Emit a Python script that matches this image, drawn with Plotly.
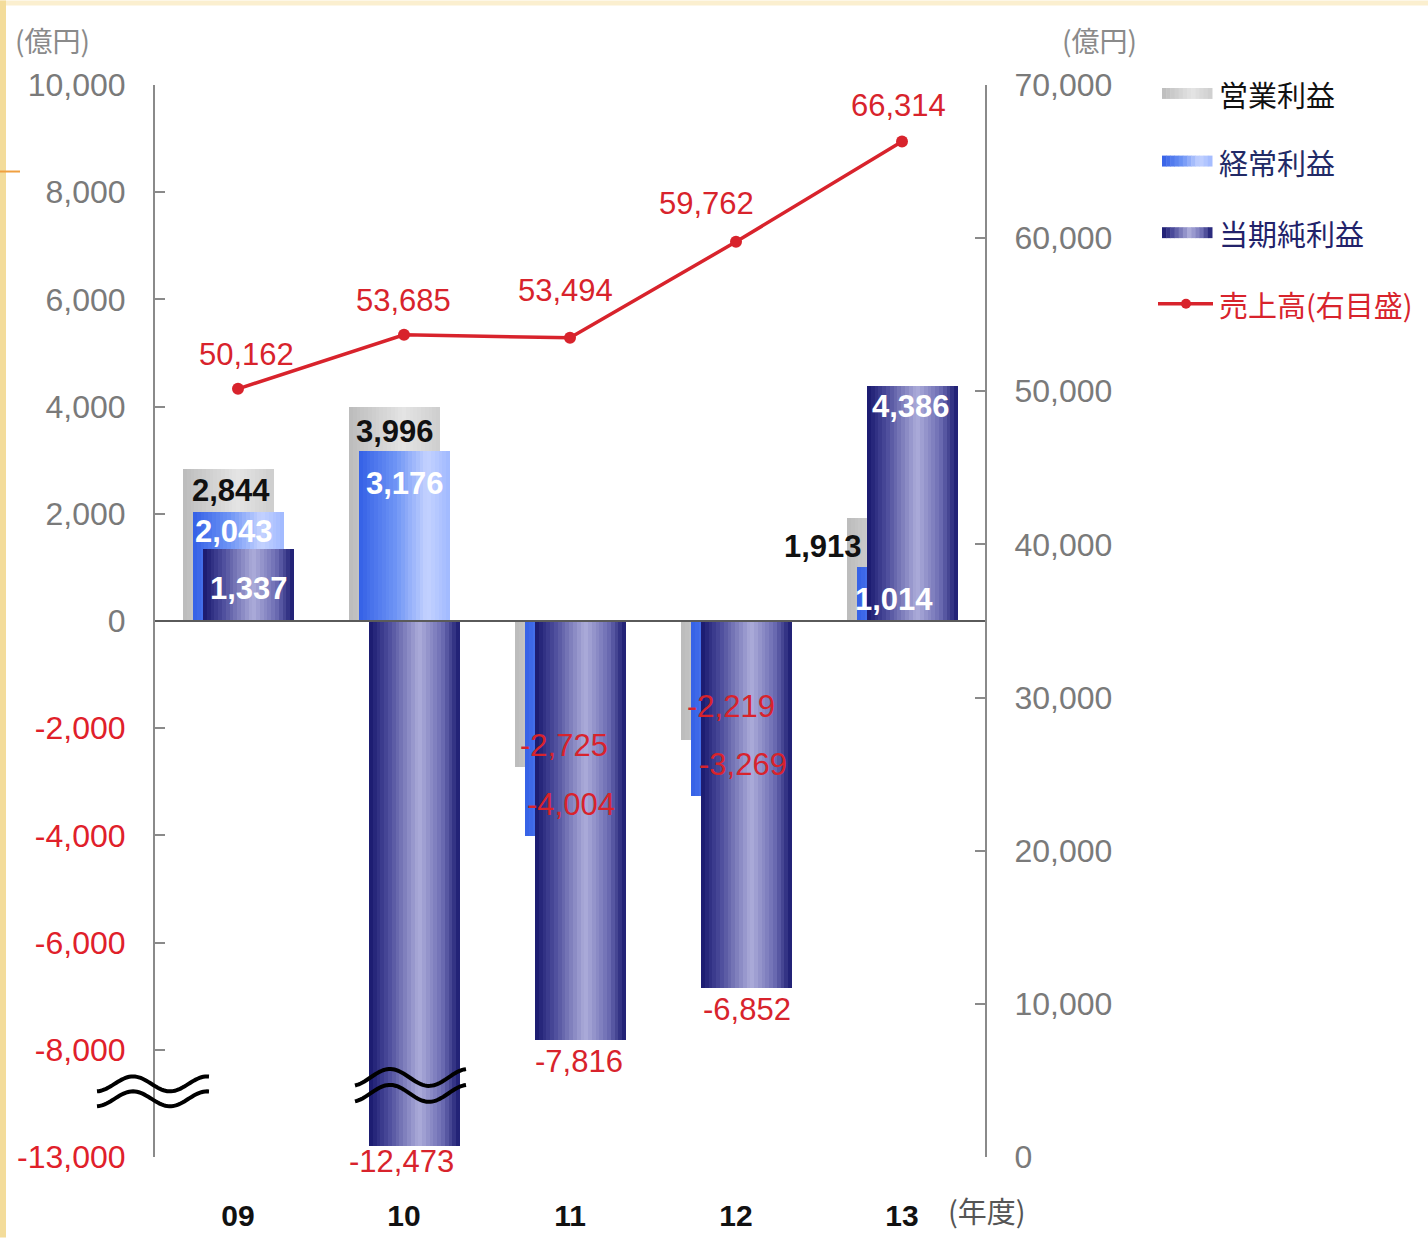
import plotly.graph_objects as go
import numpy as np

# ---------------- data ----------------
years = ["09", "10", "11", "12", "13"]
op_profit = [2844, 3996, -2725, -2219, 1913]        # 営業利益
ord_profit = [2043, 3176, -4004, -3269, 1014]       # 経常利益
net_profit = [1337, -12473, -7816, -6852, 4386]     # 当期純利益
sales = [50162, 53685, 53494, 59762, 66314]         # 売上高(右目盛)
left_ticks = [10000, 8000, 6000, 4000, 2000, 0, -2000, -4000, -6000, -8000, -13000]
right_ticks = [0, 10000, 20000, 30000, 40000, 50000, 60000, 70000]
series_names = ["営業利益", "経常利益", "当期純利益"]

# ---------------- layout constants ----------------
W_PX, H_PX = 1428, 1244
L, R, T, B = 155, 985, 85, 1163
PW, PH = R - L, B - T
CAT_PX = PW / 5.0

def px(x):
    return (x - L) / PW

def py(y):
    return (B - y) / PH

BREAK_AT = -8000
BREAK_SCALE = 2000 / 5000.0

def disp(v):
    return v if v >= BREAK_AT else BREAK_AT + (v - BREAK_AT) * BREAK_SCALE

RED = "#d8232c"
GRAY_TXT = "#7a7a7a"
NUM_FONT = "Liberation Sans, Arial, sans-serif"
JP_FONT = "Noto Sans CJK JP, sans-serif"

def interp(stops, t):
    for (t0, c0), (t1, c1) in zip(stops[:-1], stops[1:]):
        if t0 <= t <= t1:
            f = (t - t0) / (t1 - t0) if t1 > t0 else 0
            c = [round(a + (b - a) * f) for a, b in zip(c0, c1)]
            return "rgb(%d,%d,%d)" % tuple(c)
    c = stops[-1][1]
    return "rgb(%d,%d,%d)" % tuple(c)

gray_stops = [(0, (188, 188, 188)), (0.6, (228, 228, 228)), (1, (206, 206, 206))]
blue_stops = [(0, (52, 96, 230)), (0.4, (110, 148, 245)), (0.75, (196, 210, 255)), (1, (160, 185, 255))]
navy_stops = [(0, (24, 24, 110)), (0.2, (72, 72, 152)), (0.55, (172, 172, 218)), (0.8, (110, 110, 180)), (1, (26, 26, 112))]

bar_w = 91 / CAT_PX
offsets = [-55 / CAT_PX, -45 / CAT_PX, -35 / CAT_PX]
stops_list = [gray_stops, blue_stops, navy_stops]
values_list = [op_profit, ord_profit, net_profit]

xpos = list(range(len(years)))
fig = go.Figure()

N = 24
for s, (vals, off, stops) in enumerate(zip(values_list, offsets, stops_list)):
    yv = [disp(v) for v in vals]
    for k in range(N):
        t = (k + 0.5) / N
        fig.add_trace(go.Bar(
            x=xpos, y=yv, offset=off + k * bar_w / N, width=bar_w / N,
            marker=dict(color=interp(stops, t), line=dict(width=0)),
            showlegend=False, hoverinfo="skip", yaxis="y", xaxis="x",
        ))

fig.add_trace(go.Scatter(
    x=xpos, y=sales, mode="lines+markers", yaxis="y2", xaxis="x",
    line=dict(color=RED, width=3.5), marker=dict(color=RED, size=12),
    showlegend=False, hoverinfo="skip",
))

annotations = []

# bar labels (pixel shifts relative to bar center / bar end)
lbl_dx = [[2.5, 0, 3.5, 4.5, -70], [-4.5, 0, 0, 6.5, -8.5], [0, -13.5, -1.5, 0, -1.5]]
lbl_dy = [[22, 25, -22, -33, 28], [20, 33, -31, -32, 33], [39, 16, 22, 21, 21]]
pos_colors = ["#111111", "#ffffff", "#ffffff"]
for s, vals in enumerate(values_list):
    cx_off = offsets[s] + bar_w / 2
    for i, v in enumerate(vals):
        col = pos_colors[s] if v > 0 else RED
        txt = f"{v:,}"
        if v > 0:
            txt = "<b>" + txt + "</b>"
        annotations.append(dict(
            x=i + cx_off, y=disp(v), xref="x", yref="y", text=txt, showarrow=False,
            xshift=lbl_dx[s][i], yshift=-lbl_dy[s][i], xanchor="center", yanchor="middle",
            font=dict(family=NUM_FONT, size=31, color=col),
        ))

# line labels
line_dx = [8, -1, -5, -30, -4]
line_dy = [-34, -34, -47, -38, -36]
for i, v in enumerate(sales):
    annotations.append(dict(
        x=i, y=v, xref="x", yref="y2", text=f"{v:,}", showarrow=False,
        xshift=line_dx[i], yshift=-line_dy[i], xanchor="center", yanchor="middle",
        font=dict(family=NUM_FONT, size=31, color=RED),
    ))

# unit labels
annotations.append(dict(x=px(13), y=py(40), xref="paper", yref="paper", text="(億円)", showarrow=False,
                        xanchor="left", yanchor="middle", font=dict(family=JP_FONT, size=28, color="#8a8a8a")))
annotations.append(dict(x=px(1060), y=py(40), xref="paper", yref="paper", text="(億円)", showarrow=False,
                        xanchor="left", yanchor="middle", font=dict(family=JP_FONT, size=28, color="#8a8a8a")))
annotations.append(dict(x=px(946), y=py(1216), xref="paper", yref="paper", text="(年度)", showarrow=False,
                        xanchor="left", yanchor="middle", font=dict(family=JP_FONT, size=29, color="#555555")))

# legend
leg_items = [
    ("営業利益", "#111111", 94, gray_stops),
    ("経常利益", "#222a66", 162, blue_stops),
    ("当期純利益", "#22226a", 234, navy_stops),
]
shapes = []
for name, tcol, yc, stops in leg_items:
    nsl = 12
    for k in range(nsl):
        x0 = 1162 + k * 50 / nsl
        x1 = 1162 + (k + 1) * 50 / nsl + 0.5
        shapes.append(dict(type="rect", xref="paper", yref="paper",
                           x0=px(x0), x1=px(x1), y0=py(yc + 5), y1=py(yc - 6),
                           fillcolor=interp(stops, (k + 0.5) / nsl), line=dict(width=0)))
    annotations.append(dict(x=px(1217), y=py(yc), xref="paper", yref="paper", text=name, showarrow=False,
                            xanchor="left", yanchor="middle", font=dict(family=JP_FONT, size=29, color=tcol)))
# sales legend
shapes.append(dict(type="line", xref="paper", yref="paper", x0=px(1158), x1=px(1213), y0=py(305), y1=py(305),
                   line=dict(color=RED, width=3.5)))
shapes.append(dict(type="circle", xref="paper", yref="paper", x0=px(1181), x1=px(1191), y0=py(310), y1=py(300),
                   fillcolor=RED, line=dict(width=0)))
annotations.append(dict(x=px(1217), y=py(305), xref="paper", yref="paper", text="売上高(右目盛)", showarrow=False,
                        xanchor="left", yanchor="middle", font=dict(family=JP_FONT, size=29, color=RED)))

# frame decoration
shapes.append(dict(type="rect", xref="paper", yref="paper", x0=px(0), x1=px(W_PX), y0=py(0), y1=py(5),
                   fillcolor="#fbefcf", line=dict(width=0), layer="below"))
shapes.append(dict(type="rect", xref="paper", yref="paper", x0=px(0), x1=px(6), y0=py(0), y1=py(H_PX),
                   fillcolor="#f3dc9a", line=dict(width=0), layer="below"))
shapes.append(dict(type="line", xref="paper", yref="paper", x0=px(0), x1=px(20), y0=py(172), y1=py(172),
                   line=dict(color="#f0a040", width=2)))

# zero line
shapes.append(dict(type="line", xref="paper", yref="y", x0=0, x1=1, y0=0, y1=0,
                   line=dict(color="#5a5a5a", width=2), layer="above"))

# break marks
def wave_path(x0, x1, xpeak, period, yc, amp):
    xs = np.linspace(x0, x1, 60)
    ys = yc - amp * np.cos(2 * np.pi * (xs - xpeak) / period)
    pts = ["%s%.5f,%.5f" % ("M" if j == 0 else "L", px(a), py(b)) for j, (a, b) in enumerate(zip(xs, ys))]
    return " ".join(pts)

for (x0, x1, xpk, per, yc, amp, gap) in [(97, 209, 133, 74, 1089.5, 7.5, 15),
                                         (355, 466, 390, 78, 1083, 8.5, 16)]:
    for g in (0, gap):
        shapes.append(dict(type="path", xref="paper", yref="paper",
                           path=wave_path(x0, x1, xpk, per, yc + g, amp),
                           line=dict(color="#000000", width=4)))

left_text = []
for v in left_ticks:
    col = GRAY_TXT if v >= 0 else "#e0202a"
    left_text.append('<span style="color:%s">%s</span>' % (col, f"{v:,}"))

fig.update_layout(
    width=W_PX, height=H_PX, autosize=False,
    margin=dict(l=L, r=W_PX - R, t=T, b=H_PX - B, pad=0),
    paper_bgcolor="white", plot_bgcolor="rgba(0,0,0,0)",
    barmode="overlay", bargap=0,
    showlegend=False,
    xaxis=dict(range=[-0.5, 4.5], tickvals=xpos, ticktext=years, showgrid=False, zeroline=False,
               showline=False, ticks="outside", ticklen=32, tickcolor="rgba(0,0,0,0)",
               tickfont=dict(family=NUM_FONT, size=30, color="#111111", weight="bold")),
    yaxis=dict(range=[-10000, 10000], tickvals=[disp(v) for v in left_ticks], ticktext=left_text,
               showgrid=False, zeroline=False, showline=True, linecolor="#8a8a8a", linewidth=2,
               ticks="inside", ticklen=10, tickcolor="#8a8a8a", tickwidth=2, ticklabelstandoff=21,
               tickfont=dict(family=NUM_FONT, size=32, color=GRAY_TXT)),
    yaxis2=dict(range=[0, 70000], overlaying="y", side="right", tickvals=right_ticks,
                ticktext=[f"{v:,}" for v in right_ticks], showgrid=False, zeroline=False,
                showline=True, linecolor="#8a8a8a", linewidth=2, ticks="inside", ticklen=10,
                tickcolor="#8a8a8a", tickwidth=2, ticklabelstandoff=21,
                tickfont=dict(family=NUM_FONT, size=32, color=GRAY_TXT)),
    annotations=annotations,
    shapes=shapes,
)

fig.write_html("out.html", config={"displayModeBar": False},
               post_script="document.body.style.margin='0';document.body.style.overflow='hidden';")
